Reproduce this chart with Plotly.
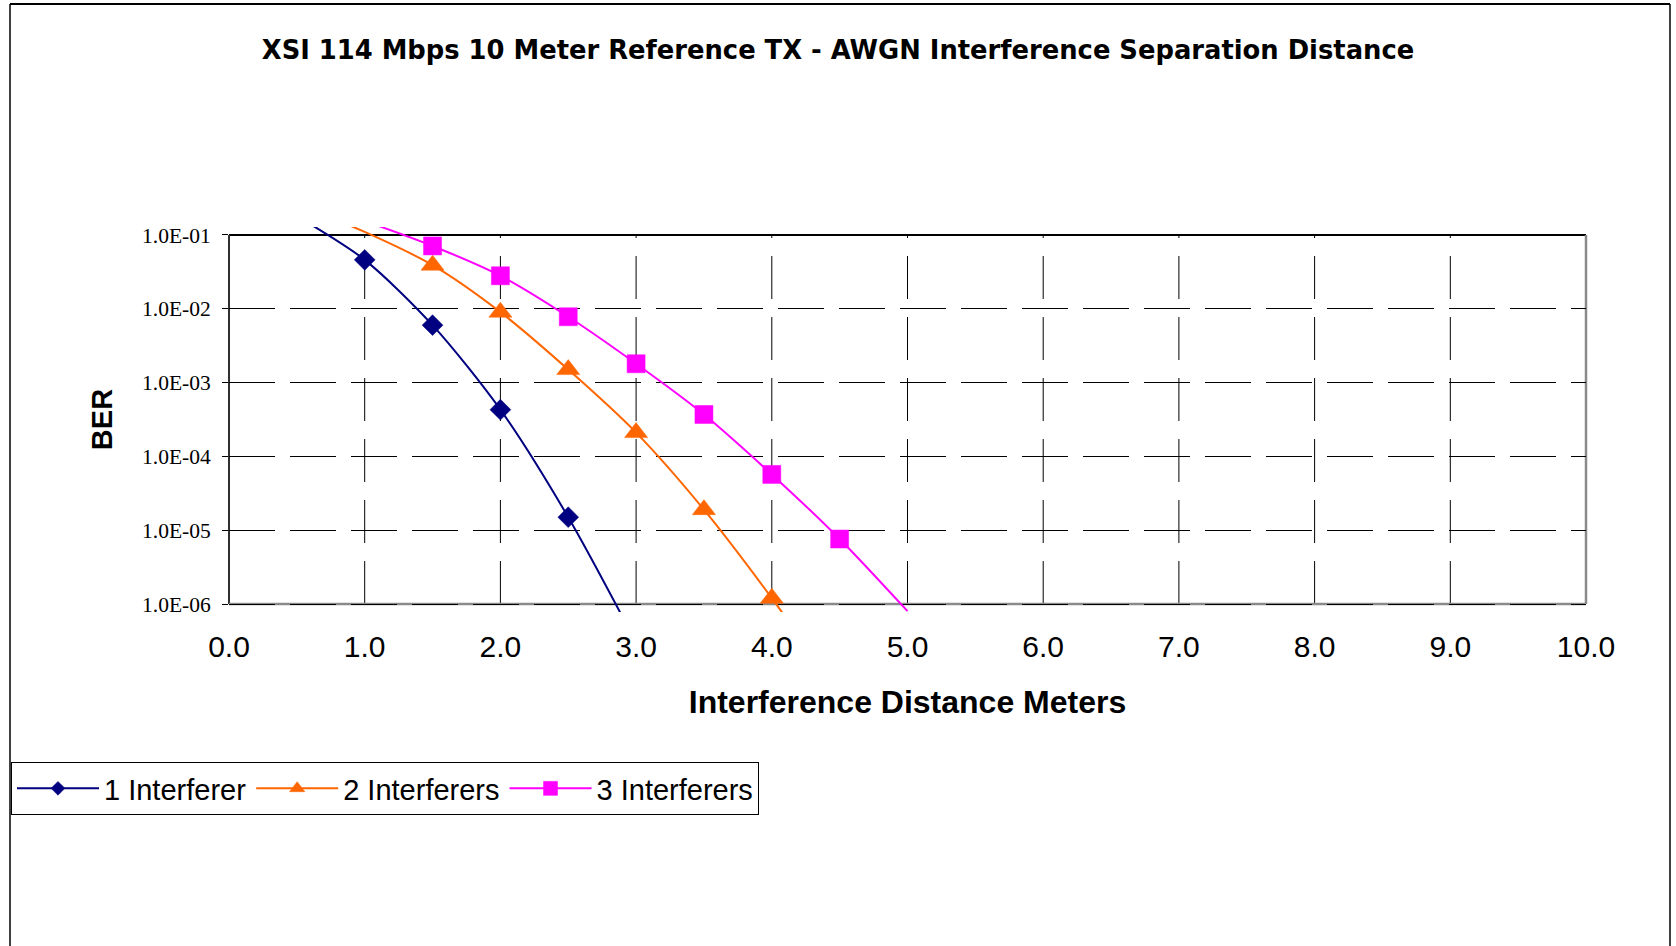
import math
import plotly.graph_objects as go

# ---------------- data ----------------
title_text = "XSI 114 Mbps 10 Meter Reference TX - AWGN Interference Separation Distance"
x_title = "Interference Distance Meters"
y_title = "BER"

names = ["1 Interferer", "2 Interferers", "3 Interferers"]

x1 = [0.5, 1.0, 1.5, 2.0, 2.5, 3.0]
y1 = [0.18, 4.6e-2, 6.0e-3, 4.3e-4, 1.5e-5, 3.0e-7]

x2 = [0.5, 1.0, 1.5, 2.0, 2.5, 3.0, 3.5, 4.0, 4.5]
y2 = [0.26, 0.11, 3.9e-2, 9.0e-3, 1.5e-3, 2.1e-4, 1.9e-5, 1.2e-6, 6.0e-8]

x3 = [1.0, 1.5, 2.0, 2.5, 3.0, 3.5, 4.0, 4.5, 5.0]
y3 = [0.155, 7.1e-2, 2.8e-2, 7.8e-3, 1.8e-3, 3.7e-4, 5.7e-5, 7.6e-6, 8.0e-7]

x_ticks = [0, 1, 2, 3, 4, 5, 6, 7, 8, 9, 10]
x_tick_labels = ["0.0", "1.0", "2.0", "3.0", "4.0", "5.0", "6.0", "7.0", "8.0", "9.0", "10.0"]
y_ticks = [1e-1, 1e-2, 1e-3, 1e-4, 1e-5, 1e-6]
y_tick_labels = ["1.0E-01", "1.0E-02", "1.0E-03", "1.0E-04", "1.0E-05", "1.0E-06"]

# ---------------- styling ----------------
colors = ["#000080", "#FF6600", "#FF00FF"]
symbols = ["diamond", "triangle-up", "square"]
msizes = [16, 20, 18]

OFF = 0                     # body margin removed via post_script
W, H = 1676, 946
ML, MR, MT, MB = 229, 90, 227, 334
Y_LO, Y_HI = 1e-6, 1e-1
OVER = 0.108  # decades the line clip region extends past the frame
y_range = [math.log10(Y_LO) - OVER, math.log10(Y_HI) + OVER]
span = y_range[1] - y_range[0]
f_bot = OVER / span
f_top = 1 - OVER / span

plot_w = W - ML - MR
plot_h = H - MT - MB


def px_to_paper_x(px):
    return (px - OFF - ML) / plot_w


def px_to_paper_y(py):
    return (H - MB - (py - OFF)) / plot_h


SANS = "Liberation Sans, Arial"

fig = go.Figure()
for xs, ys, nm, c, s, ms in zip([x1, x2, x3], [y1, y2, y3], names, colors, symbols, msizes):
    sizes = [ms if (Y_LO * 0.999 <= v <= Y_HI * 1.001) else 0 for v in ys]
    fig.add_trace(go.Scatter(
        x=xs, y=ys, name=nm, mode="lines+markers",
        line=dict(color=c, width=2, shape="spline", smoothing=0.8),
        marker=dict(symbol=s, size=sizes, color=c, opacity=1, line=dict(width=0.5, color=c)),
    ))

shapes = []
# vertical dashed gridlines (only inside frame)
for v in x_ticks[1:-1]:
    shapes.append(dict(type="line", xref="x", yref="y domain", x0=v, x1=v, y0=f_bot, y1=f_top,
                       line=dict(color="#000000", width=1, dash="43px,18px"), layer="below"))
# plot frame
shapes += [
    dict(type="line", xref="x domain", yref="y domain", x0=0, x1=1, y0=f_top, y1=f_top,
         line=dict(color="#000000", width=2), layer="below"),
    dict(type="line", xref="x domain", yref="y domain", x0=0, x1=0, y0=f_bot, y1=f_top,
         line=dict(color="#303030", width=2), layer="below"),
    dict(type="line", xref="x domain", yref="y domain", x0=1, x1=1, y0=f_bot, y1=f_top,
         line=dict(color="#8a8a8a", width=2.5), layer="below"),
    dict(type="line", xref="x domain", yref="y domain", x0=0, x1=1, y0=f_bot, y1=f_bot,
         line=dict(color="#8a8a8a", width=2.5), layer="below"),
]
# outer chart border
bx0, bx1 = px_to_paper_x(10), px_to_paper_x(1670)
by_top, by_bot = px_to_paper_y(4), px_to_paper_y(960)
shapes += [
    dict(type="line", xref="paper", yref="paper", x0=bx0, x1=bx1, y0=by_top, y1=by_top,
         line=dict(color="#000000", width=2)),
    dict(type="line", xref="paper", yref="paper", x0=bx0, x1=bx0, y0=by_bot, y1=by_top,
         line=dict(color="#000000", width=1.5)),
    dict(type="line", xref="paper", yref="paper", x0=bx1, x1=bx1, y0=by_bot, y1=by_top,
         line=dict(color="#000000", width=1.5)),
]

fig.update_layout(
    width=W, height=H,
    margin=dict(l=ML, r=MR, t=MT, b=MB, autoexpand=False),
    paper_bgcolor="white", plot_bgcolor="white",
    title=dict(text=title_text, x=(838 - OFF) / W, xref="container", xanchor="center",
               y=1 - (50 - OFF) / H, yref="container", yanchor="middle",
               font=dict(family="DejaVu Sans", size=25.8, color="black", weight="bold")),
    showlegend=True,
    legend=dict(orientation="h", x=px_to_paper_x(11), y=px_to_paper_y(762), xanchor="left", yanchor="top",
                bordercolor="black", borderwidth=1, bgcolor="white",
                font=dict(family=SANS, size=29, color="black"),
                itemwidth=82, tracegroupgap=0),
    shapes=shapes,
    xaxis=dict(range=[0, 10], tickvals=x_ticks, ticktext=x_tick_labels, showgrid=False, zeroline=False,
               showline=False, ticks="", automargin=False, ticklabelstandoff=14,
               tickfont=dict(family=SANS, size=30, color="black"),
               title=dict(text=x_title, standoff=28,
                          font=dict(family=SANS, size=32, color="black", weight="bold"))),
    yaxis=dict(type="log", range=y_range, tickvals=y_ticks, ticktext=y_tick_labels,
               showgrid=True, gridcolor="#000000", gridwidth=1, griddash="46px,15px",
               zeroline=False, showline=False, ticks="outside", ticklen=6, tickcolor="black", tickwidth=1,
               automargin=False, ticklabelstandoff=7,
               tickfont=dict(family="Liberation Serif, Times New Roman", size=21.5, color="black"),
               title=dict(text=y_title, standoff=20,
                          font=dict(family=SANS, size=29, color="black", weight="bold"))),
)

fig.write_html(
    "out.html",
    config={"displayModeBar": False},
    post_script="document.body.style.margin='0';document.body.style.overflow='hidden';",
)
